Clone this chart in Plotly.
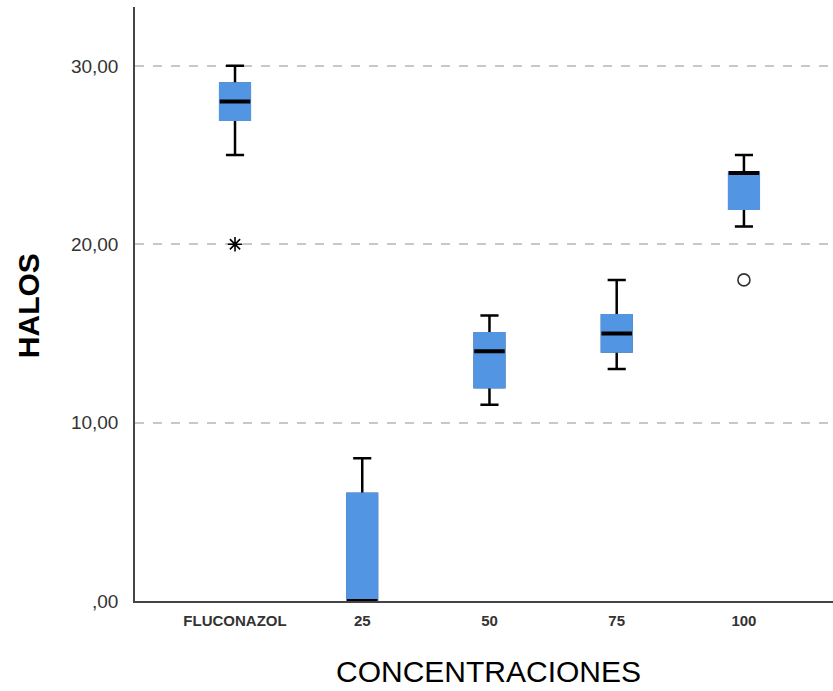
import plotly.graph_objects as go

categories = ["FLUCONAZOL", "25", "50", "75", "100"]
q1_vals = [27, 0, 12, 14, 22]
median_vals = [28, 0, 14, 15, 24]
q3_vals = [29, 6, 15, 16, 24]
lower_whisker = [25, 0, 11, 13, 21]
upper_whisker = [30, 8, 16, 18, 25]

extreme_x = ["FLUCONAZOL"]
extreme_y = [20]
outlier_x = ["100"]
outlier_y = [18]

y_ticks = [0, 10, 20, 30]
y_ticktext = [",00", "10,00", "20,00", "30,00"]

x_title = "CONCENTRACIONES"
y_title = "HALOS"

BLUE = "#5295E3"
FONT = "Arial, Liberation Sans, sans-serif"

fig = go.Figure()

# whiskers + caps (black)
fig.add_trace(go.Box(
    x=categories, q1=q1_vals, median=median_vals, q3=q3_vals,
    lowerfence=lower_whisker, upperfence=upper_whisker,
    fillcolor=BLUE, line=dict(color="black", width=2.5),
    width=0.23, whiskerwidth=0.62, boxpoints=False, showlegend=False,
    hoverinfo="skip"))

# box body (blue, no dark outline)
fig.add_trace(go.Box(
    x=categories, q1=q1_vals, median=median_vals, q3=q3_vals,
    lowerfence=q1_vals, upperfence=q3_vals,
    fillcolor=BLUE, line=dict(color=BLUE, width=3),
    width=0.23, whiskerwidth=0, boxpoints=False, showlegend=False,
    hoverinfo="skip"))

# median lines
fig.add_trace(go.Box(
    x=categories, q1=median_vals, median=median_vals, q3=median_vals,
    lowerfence=median_vals, upperfence=median_vals,
    fillcolor="black", line=dict(color="black", width=4),
    width=0.24, whiskerwidth=0, boxpoints=False, showlegend=False,
    hoverinfo="skip"))

# extreme value (star)
fig.add_trace(go.Scatter(
    x=extreme_x, y=extreme_y, mode="markers", showlegend=False,
    marker=dict(symbol="asterisk-open", size=12, color="black",
                line=dict(color="black", width=1.6))))

# outlier (circle)
fig.add_trace(go.Scatter(
    x=outlier_x, y=outlier_y, mode="markers", showlegend=False,
    marker=dict(symbol="circle-open", size=12, color="#333333",
                line=dict(color="#333333", width=1.6))))

fig.update_layout(
    width=833, height=691,
    margin=dict(l=135, r=0, t=7, b=90, autoexpand=False),
    paper_bgcolor="white", plot_bgcolor="white",
    boxmode="overlay",
    font=dict(family=FONT, color="#333333"),
    annotations=[
        dict(text=x_title, xref="paper", yref="paper", x=0.507, y=-0.118,
             xanchor="center", yanchor="middle", showarrow=False,
             font=dict(family=FONT, size=30, color="black")),
        dict(text=y_title, xref="paper", yref="paper", x=-0.1533, y=0.498,
             xanchor="center", yanchor="middle", showarrow=False, textangle=-90,
             font=dict(family=FONT, size=30, color="black", weight="bold")),
    ],
)

fig.update_xaxes(
    type="category", categoryorder="array", categoryarray=categories,
    range=[-0.786, 4.70], automargin=False,
    showline=True, linecolor="#444444", linewidth=1.5,
    showgrid=False, zeroline=False, ticks="",
    tickfont=dict(family=FONT, size=15, color="#333333", weight="bold"),
    ticklabelstandoff=5,
)

fig.update_yaxes(
    range=[0, 33.3], automargin=False,
    tickvals=y_ticks, ticktext=y_ticktext,
    showline=True, linecolor="#444444", linewidth=1.5,
    showgrid=True, gridcolor="#c8c8c8", gridwidth=1.5, griddash="dash",
    zeroline=False, ticks="",
    tickfont=dict(family=FONT, size=19, color="#333333"),
    ticklabelstandoff=11,
)

fig.write_html("out.html", config={"displayModeBar": False},
               post_script="document.body.style.margin='0px';")
